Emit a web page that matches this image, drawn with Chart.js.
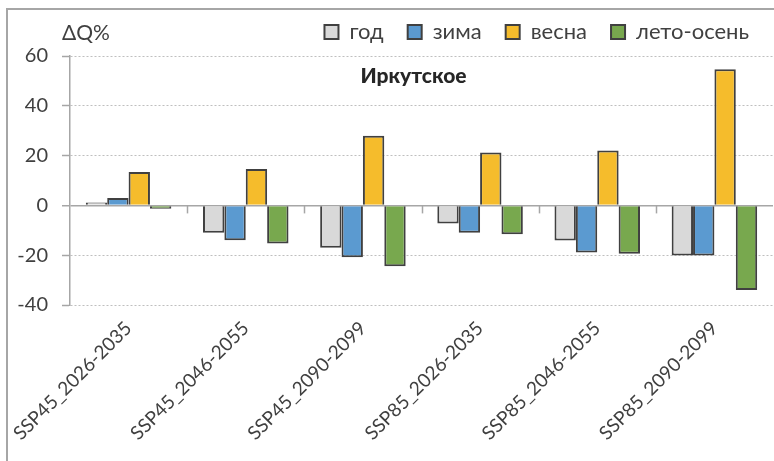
<!DOCTYPE html>
<html>
<head>
<meta charset="utf-8">
<script src="https://cdn.jsdelivr.net/npm/chart.js@4"></script>
<style>
html,body{margin:0;padding:0;background:#fff;overflow:hidden;}
#wrap{position:relative;width:774px;height:461px;}
#frame{position:absolute;left:6px;top:8px;width:820px;height:520px;border:2px solid #A6A6A6;box-sizing:border-box;}
canvas{position:absolute;left:0;top:0;}
</style>
</head>
<body>
<div id="wrap">
<div id="frame"></div>
<canvas id="c" width="774" height="461"></canvas>
</div>
<script>
const categories = ["SSP45_2026-2035","SSP45_2046-2055","SSP45_2090-2099","SSP85_2026-2035","SSP85_2046-2055","SSP85_2090-2099"];
const seriesNames = ["год","зима","весна","лето-осень"];
const god   = [1.2, -11.0, -17.0, -7.3, -14.1, -20.1];
const zima  = [3.0, -14.0, -20.8, -11.0, -18.9, -20.1];
const vesna = [13.4, 14.6, 28.0, 21.2, 22.0, 54.7];
const leto  = [-1.3, -15.3, -24.4, -11.6, -19.4, -34.0];
const yTicks = [-40, -20, 0, 20, 40, 60];
const titleText = "Иркутское";
const yUnit = "ΔQ%";

const colors = ["#D9D9D9", "#5B9AD0", "#F5BC2C", "#78A84E"];
const values = [god, zima, vesna, leto];

const textColor = "#404040";

const overlay = {
  id: "overlay",
  afterLayout(chart) {
    const lg = chart.legend;
    if (lg) { lg.top -= 3; lg.bottom -= 3; }
  },
  afterDatasetsDraw(chart) {
    const ctx = chart.ctx;
    const xs = chart.scales.x, ys = chart.scales.y;
    const y0 = ys.getPixelForValue(0);
    const n = categories.length;
    const w = (xs.right - xs.left) / n;
    ctx.save();
    ctx.strokeStyle = "#A6A6A6";
    ctx.lineWidth = 1.5;
    for (let i = 1; i < n; i++) {
      const x = Math.round(xs.left + i * w) + 0.5;
      ctx.beginPath();
      ctx.moveTo(x, y0);
      ctx.lineTo(x, y0 + 8);
      ctx.stroke();
    }
    ctx.restore();
  },
  afterDraw(chart) {
    const ctx = chart.ctx;
    const ca = chart.chartArea;
    ctx.save();
    ctx.fillStyle = "#262626";
    ctx.font = "900 21px Lato";
    ctx.textAlign = "center";
    ctx.textBaseline = "middle";
    ctx.fillText(titleText, (ca.left + ca.right) / 2 - 8, ca.top + 20);
    ctx.fillStyle = textColor;
    ctx.font = "21px Lato";
    ctx.textAlign = "left";
    ctx.fillText(yUnit, 62, 33);
    ctx.restore();
  }
};

new Chart(document.getElementById("c"), {
  type: "bar",
  data: {
    labels: categories,
    datasets: seriesNames.map((name, i) => ({
      label: name,
      data: values[i],
      backgroundColor: colors[i],
      borderColor: "#404040",
      borderWidth: 2,
      categoryPercentage: 0.73,
      barPercentage: 1.0
    }))
  },
  options: {
    responsive: false,
    animation: false,
    devicePixelRatio: 1,
    layout: { padding: { left: 0, right: 1, top: 0, bottom: 0 } },
    plugins: {
      legend: {
        position: "top",
        align: "end",
        labels: {
          font: { family: "Lato", size: 22 },
          color: textColor,
          boxWidth: 14,
          boxHeight: 14,
          padding: 24,
          useBorderRadius: false
        }
      },
      title: { display: false },
      tooltip: { enabled: false }
    },
    scales: {
      x: {
        grid: { display: false },
        border: { display: false },
        ticks: {
          autoSkip: false,
          maxRotation: 45,
          minRotation: 45,
          color: textColor,
          font: { family: "Lato", size: 19 },
          padding: 4
        },
        afterFit(s) { s.height = 156; }
      },
      y: {
        min: -40,
        max: 60,
        afterBuildTicks(s) { s.ticks = yTicks.map(v => ({ value: v })); },
        ticks: {
          color: textColor,
          font: { family: "Lato", size: 20 },
          padding: 14
        },
        grid: {
          color: c => (c.tick && c.tick.value === 0) ? "#A6A6A6" : "#BFBFBF",
          lineWidth: c => (c.tick && c.tick.value === 0) ? 1.5 : 1,
          tickColor: "#A6A6A6",
          tickLength: 8,
          tickWidth: 1.5
        },
        border: {
          display: true,
          color: "#A6A6A6",
          width: 1.5,
          dash: c => (c.tick && c.tick.value === 0) ? [] : [2, 2]
        },
        afterFit(s) { s.width = 70; }
      }
    }
  },
  plugins: [overlay]
});
</script>
</body>
</html>
